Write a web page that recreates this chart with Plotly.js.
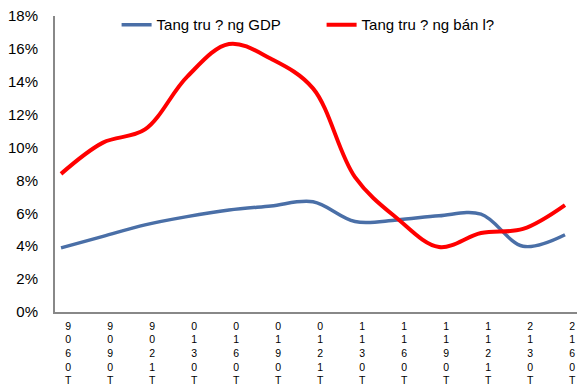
<!DOCTYPE html>
<html>
<head>
<meta charset="utf-8">
<script src="https://cdn.plot.ly/plotly-3.0.1.min.js"></script>
<style>html,body{margin:0;padding:0;background:#fff;}#chart{width:577px;height:385px;}</style>
</head>
<body>
<div id="chart"></div>
<script>
// Quarterly periods (T06/09 ... T06/12), shown as stacked characters as in the reference
const periods = ["T06/09","T09/09","T12/09","T03/10","T06/10","T09/10","T12/10","T03/11","T06/11","T09/11","T12/11","T03/12","T06/12"];
const tickLabels = ["9<br>0<br>6<br>0<br>T","9<br>0<br>9<br>0<br>T","9<br>0<br>2<br>1<br>T","0<br>1<br>3<br>0<br>T","0<br>1<br>6<br>0<br>T","0<br>1<br>9<br>0<br>T","0<br>1<br>2<br>1<br>T","1<br>1<br>3<br>0<br>T","1<br>1<br>6<br>0<br>T","1<br>1<br>9<br>0<br>T","1<br>1<br>2<br>1<br>T","2<br>1<br>3<br>0<br>T","2<br>1<br>6<br>0<br>T"];
const gdpGrowth = [3.9, 4.6, 5.3, 5.8, 6.2, 6.45, 6.7, 5.5, 5.6, 5.85, 5.95, 4.0, 4.7];
const retailGrowth = [8.4, 10.3, 11.1, 14.3, 16.3, 15.4, 13.6, 8.2, 5.7, 3.95, 4.8, 5.05, 6.5];
const yTicks = [0, 2, 4, 6, 8, 10, 12, 14, 16, 18];

const idx = periods.map((_, i) => i);
const tickPos = idx.map(i => i + 0.17);

const traces = [
  {x: idx, y: gdpGrowth, type: 'scatter', mode: 'lines', name: 'Tang tru ? ng GDP',
   line: {color: '#4a6fa7', width: 3.5, shape: 'spline', smoothing: 1}},
  {x: idx, y: retailGrowth, type: 'scatter', mode: 'lines', name: 'Tang tru ? ng bán l?',
   line: {color: '#ff0000', width: 4, shape: 'spline', smoothing: 1}}
];

const layout = {
  width: 577, height: 385,
  margin: {l: 55, r: 0, t: 16, b: 73, pad: 0},
  paper_bgcolor: '#fff', plot_bgcolor: '#fff',
  font: {family: 'Liberation Sans, Arial, sans-serif', color: '#000', size: 15},
  showlegend: true,
  legend: {orientation: 'h', x: 0.118, xanchor: 'left', y: 0.97, yanchor: 'middle',
    font: {size: 15, color: '#000'}, bgcolor: 'rgba(0,0,0,0)', entrywidth: 160, entrywidthmode: 'pixels'},
  xaxis: {range: [-0.143, 12.286], tickvals: tickPos, ticktext: tickLabels, tickangle: 0,
    showgrid: false, zeroline: false, showline: true, linecolor: '#888', linewidth: 2,
    ticks: '', tickfont: {size: 10.5, color: '#000'}, ticklabelstandoff: 3,
    ticklabeloverflow: 'allow', fixedrange: true},
  yaxis: {range: [0, 18], tickvals: yTicks, ticktext: yTicks.map(v => v + '%'),
    showgrid: false, zeroline: false, showline: true, linecolor: '#888', linewidth: 2,
    ticks: '', tickfont: {size: 15, color: '#000'}, ticklabelstandoff: 12, fixedrange: true}
};

Plotly.newPlot('chart', traces, layout, {displayModeBar: false, staticPlot: true});
</script>
</body>
</html>
